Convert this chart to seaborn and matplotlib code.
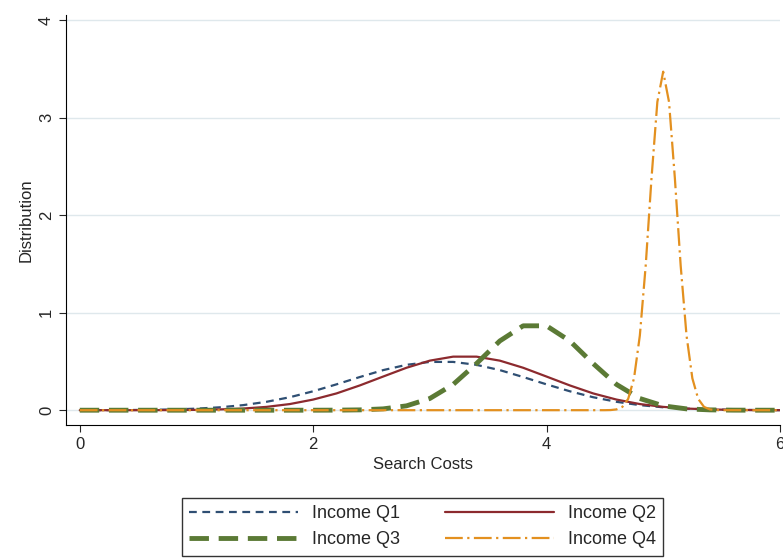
import numpy as np
import pandas as pd
import matplotlib
matplotlib.use("Agg")
import matplotlib.pyplot as plt
import seaborn as sns

# values
x_grid = [0.0, 0.2, 0.4, 0.6, 0.8, 1.0, 1.2, 1.4, 1.6, 1.8, 2.0, 2.2, 2.4, 2.6, 2.8, 3.0,
          3.2, 3.4, 3.6, 3.8, 4.0, 4.2, 4.4, 4.6, 4.8, 5.0, 5.2, 5.4, 5.6, 5.8, 6.0]
q1 = [.0003, .0007, .0017, .0038, .008, .0159, .0297, .052, .086, .133, .194, .265, .340, .411, .465, .495,
      .495, .465, .411, .340, .265, .194, .133, .086, .052, .0297, .0159, .008, .0038, .0017, .0007]
q2 = [0, .0001, .0002, .0005, .0013, .0034, .0079, .017, .034, .063, .109, .172, .254, .345, .435, .508,
      .549, .549, .508, .435, .345, .254, .172, .109, .063, .034, .017, .0079, .0034, .0013, .0005]
q3 = [0, 0, 0, 0, 0, 0, 0, 0, 0, 0, .0001, .0007, .0034, .0137, .0446, .120,
      .264, .478, .710, .865, .865, .710, .478, .264, .120, .0446, .0137, .0034, .0007, .0001, 0]
x_q4 = [0.0, 4.5, 4.55, 4.6, 4.65, 4.7, 4.75, 4.8, 4.85, 4.9, 4.95, 5.0,
        5.05, 5.1, 5.15, 5.2, 5.25, 5.3, 5.35, 5.4, 5.45, 5.5, 6.0]
q4 = [0, .0003, .0016, .0082, .034, .116, .327, .766, 1.48, 2.38, 3.16, 3.47,
      3.16, 2.38, 1.48, .766, .327, .116, .034, .0082, .0016, .0003, 0]

sns.set_style("white")
plt.rcParams['font.family'] = ['Liberation Sans', 'DejaVu Sans']

fig = plt.figure(figsize=(7.83, 5.59), dpi=100)
ax = fig.add_axes([0.084, 0.24, 0.912, 0.733])

styles = [
    ("Income Q1", x_grid, q1, "#2f4f73", (0, (3.5, 2.5)), 1.6),
    ("Income Q2", x_grid, q2, "#8c2a2e", "-", 1.6),
    ("Income Q3", x_grid, q3, "#5b7a35", (0, (4, 2)), 3.5),
    ("Income Q4", x_q4, q4, "#e3901f", (0, (8, 2, 1, 2)), 1.6),
]
for name, xs, ys, col, ls, lw in styles:
    df = pd.DataFrame({"x": xs, "y": ys})
    sns.lineplot(data=df, x="x", y="y", ax=ax, color=col, linestyle=ls, linewidth=lw, label=name)

ax.set_xlim(-0.12, 6.0)
ax.set_ylim(-0.15, 4.05)
ax.set_xticks([0, 2, 4, 6])
ax.set_yticks([0, 1, 2, 3, 4])
ax.yaxis.grid(True, color="#dfe8ec", linewidth=1)
ax.tick_params(axis="both", length=5, labelsize=12, left=True, bottom=True)
plt.setp(ax.get_yticklabels(), rotation=90, va="center")
ax.set_xlabel("Search Costs", fontsize=12)
ax.set_ylabel("Distribution", fontsize=12)
for s in ["top", "right"]:
    ax.spines[s].set_visible(False)
for s in ["left", "bottom"]:
    ax.spines[s].set_color("black")

h, l = ax.get_legend_handles_labels()
ax.get_legend().remove()
order = [0, 2, 1, 3]
fig.legend([h[i] for i in order], [l[i] for i in order], loc="lower center",
           bbox_to_anchor=(0.54, -0.01), ncol=2, fontsize=13, frameon=True, fancybox=False,
           edgecolor="black", handlelength=6, columnspacing=2.5, borderpad=0.4)

fig.savefig("out.png", dpi=100)
